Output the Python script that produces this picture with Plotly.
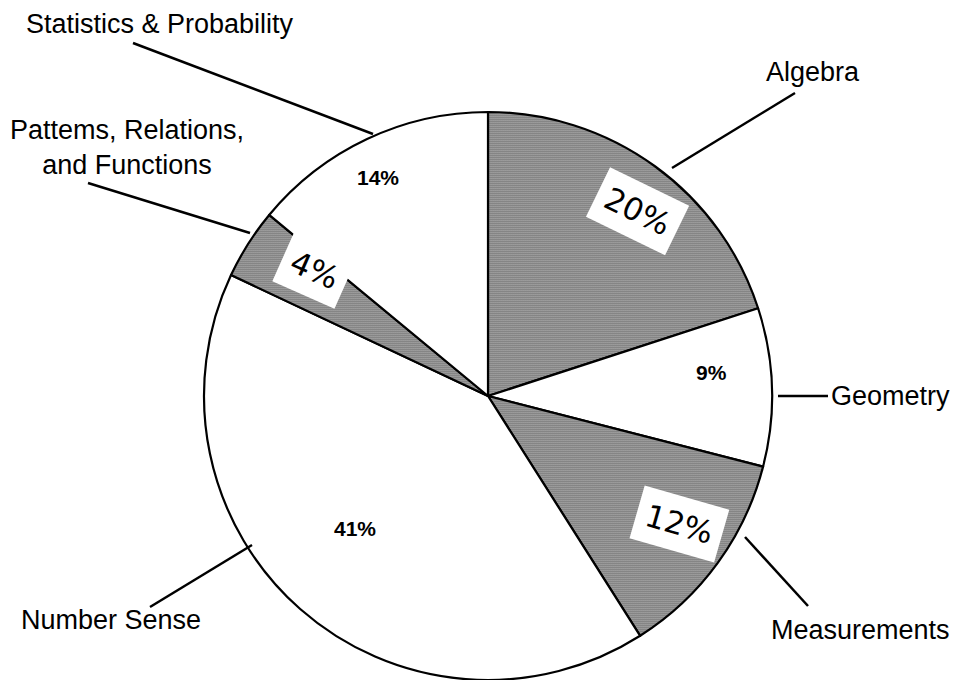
import math
import plotly.graph_objects as go

# Strand shares of the mathematics item pool (percent), clockwise from 12 o'clock
strands = ["Algebra", "Geometry", "Measurements", "Number Sense",
           "Pattems, Relations, and Functions", "Statistics & Probability"]
shares = [20, 9, 12, 41, 4, 14]
stippled = [True, False, True, False, True, False]

W, H = 958, 680
CX, CY, R = 488, 396, 284


def px(x):
    return x / W


def py(y):
    return 1 - y / H


fills = ["#b0b0b0" if s else "white" for s in stippled]
shapes_ = ["." if s else "" for s in stippled]

fig = go.Figure(go.Pie(
    labels=strands,
    values=shares,
    sort=False,
    direction="clockwise",
    rotation=0,
    textinfo="none",
    hoverinfo="label+percent",
    showlegend=False,
    domain=dict(x=[px(CX - R), px(CX + R)], y=[py(CY + R), py(CY - R)]),
    marker=dict(
        colors=fills,
        line=dict(color="black", width=2.2),
        pattern=dict(shape=shapes_, fgcolor="#1c1c1c", size=2, solidity=0.55),
    ),
))

# Percent labels placed relative to each slice's mid-angle
# (radial fraction, angle offset in degrees, handwritten box?, rotation)
label_style = {
    0: (0.836, 2.9, True, 26),
    1: (0.79, -4.1, False, 0),
    2: (0.81, -2.3, True, 16),
    3: (0.66, 3.6, False, 0),
    4: (0.754, 3.6, True, 24),
    5: (0.86, -1.5, False, 0),
}

annotations = []
total = sum(shares)
start = 0.0
for i, v in enumerate(shares):
    mid = (start + v / 2) / total * 360
    start += v
    frac, dth, boxed, ang = label_style[i]
    th = math.radians(mid + dth)
    x = CX + frac * R * math.sin(th)
    y = CY - frac * R * math.cos(th)
    common = dict(x=px(x), y=py(y), xref="paper", yref="paper", text=f"{v}%",
                  showarrow=False, xanchor="center", yanchor="middle")
    if boxed:
        annotations.append(dict(
            **common, textangle=ang, bgcolor="white", borderpad=9,
            font=dict(family="DejaVu Sans", size=31, color="black"),
        ))
    else:
        annotations.append(dict(
            **common,
            font=dict(family="Liberation Sans", size=21, color="black",
                      weight="bold"),
        ))

# Category names outside the pie
name_pos = [
    ("Algebra", 813, 72, "center"),
    ("Geometry", 829, 396, "left"),
    ("Measurements", 860, 630, "center"),
    ("Number Sense", 111, 620, "center"),
    ("Pattems, Relations,<br>and Functions", 127, 147, "center"),
    ("Statistics & Probability", 160, 24, "center"),
]
for text, x, y, anchor in name_pos:
    annotations.append(dict(
        x=px(x), y=py(y), xref="paper", yref="paper", text=text,
        showarrow=False, xanchor=anchor, yanchor="middle", align="center",
        font=dict(family="Liberation Sans", size=27, color="black"),
    ))

# Leader lines from the names to the rim
leaders = [
    ((672, 168), (795, 93)),
    ((778, 396), (828, 396)),
    ((745, 537), (808, 606)),
    ((252, 545), (150, 607)),
    ((250, 233), (88, 183)),
    ((373, 134), (133, 43)),
]
shapes = []
for (x0, y0), (x1, y1) in leaders:
    shapes.append(dict(
        type="line", xref="paper", yref="paper",
        x0=px(x0), y0=py(y0), x1=px(x1), y1=py(y1),
        line=dict(color="black", width=2.5),
    ))

fig.update_layout(
    width=W, height=H,
    margin=dict(l=0, r=0, t=0, b=0),
    paper_bgcolor="white",
    plot_bgcolor="white",
    annotations=annotations,
    shapes=shapes,
)

fig.write_html("out.html")
